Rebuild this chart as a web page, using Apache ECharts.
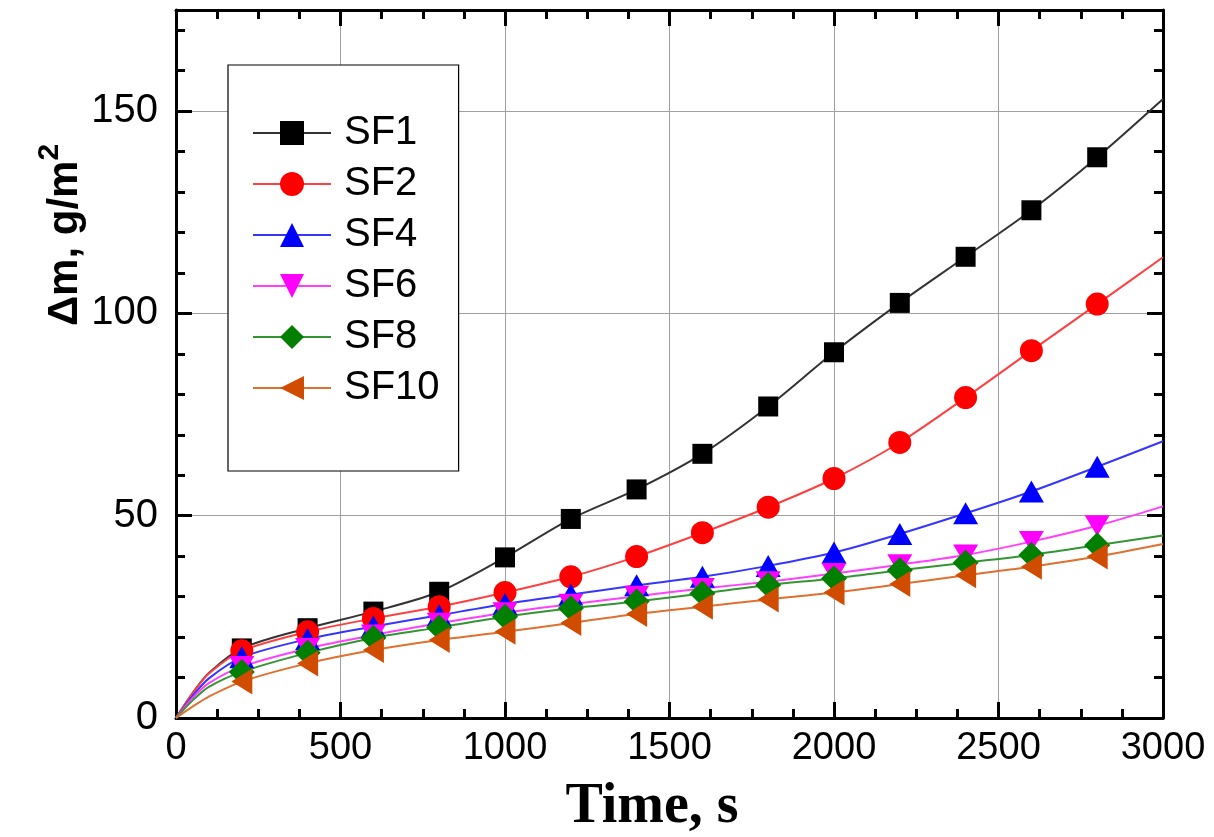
<!DOCTYPE html>
<html>
<head>
<meta charset="utf-8">
<title>Mass change vs time</title>
<script src="https://cdn.jsdelivr.net/npm/echarts/dist/echarts.min.js"></script>
<style>
  html, body { margin: 0; padding: 0; background: #fff; }
  #chart { width: 1214px; height: 837px; }
</style>
</head>
<body>
<div id="chart"></div>
<script>
// sampled points (markers)
const times = [0, 200, 400, 600, 800, 1000, 1200, 1400, 1600, 1800, 2000, 2200, 2400, 2600, 2800];
const sf1 = [0, 17.2, 22.2, 26.3, 31.2, 39.7, 49.2, 56.5, 65.3, 77, 90.4, 102.6, 114, 125.5, 138.6];
const sf2 = [0, 16.6, 21.3, 24.6, 27.5, 31, 34.9, 39.9, 45.8, 52.1, 59.2, 68.1, 79.2, 90.8, 102.3];
const sf4 = [0, 15, 19.5, 22.6, 25.4, 28.2, 30.5, 32.8, 34.9, 37.6, 40.9, 45.5, 50.6, 56, 62.1];
const sf6 = [0, 12.7, 17.2, 20.5, 23.4, 26, 28.1, 30.1, 32, 33.7, 35.7, 37.9, 40.3, 43.6, 47.5];
const sf8 = [0, 11.4, 16.1, 19.8, 22.4, 25, 27.1, 28.8, 30.8, 32.9, 34.5, 36.5, 38.4, 40.3, 42.7];
const sf10 = [0, 9, 13.5, 16.8, 19.3, 21.3, 23.5, 25.7, 27.5, 29.3, 31, 33.1, 35.3, 37.4, 39.9];

// points (no marker drawn)
const curveTimes = [50, 100, 3000];
const sf1Curve = [6.1, 11.1, 153];
const sf2Curve = [6.1, 11.0, 113.9];
const sf4Curve = [5.4, 9.8, 68.4];
const sf6Curve = [4.9, 8.6, 52.3];
const sf8Curve = [4.3, 7.7, 45.1];
const sf10Curve = [2.8, 5.3, 43];

const names = ["SF1", "SF2", "SF4", "SF6", "SF8", "SF10"];
const xTicks = [0, 500, 1000, 1500, 2000, 2500, 3000];
const yTicks = [0, 50, 100, 150];

function buildData(marks, curve) {
  // the markers sitting on the origin are clipped away in the original plot
  let pts = times.map((t, i) => (t === 0 ? { value: [t, marks[i]], symbol: "none" } : { value: [t, marks[i]] }));
  curveTimes.forEach((t, i) => {
    pts.push({ value: [t, curve[i]], symbol: "none" });
  });
  pts.sort((a, b) => a.value[0] - b.value[0]);
  return pts;
}

const styles = [
  { marks: sf1, curve: sf1Curve, line: "#333333", fill: "#000000", symbol: "rect", size: 20, rotate: 0 },
  { marks: sf2, curve: sf2Curve, line: "#ff4040", fill: "#ff0000", symbol: "circle", size: 23, rotate: 0 },
  { marks: sf4, curve: sf4Curve, line: "#3535ff", fill: "#0000ff", symbol: "triangle", size: [25, 22], rotate: 0 },
  { marks: sf6, curve: sf6Curve, line: "#ff40ff", fill: "#ff00ff", symbol: "triangle", size: [25, 21], rotate: 180 },
  { marks: sf8, curve: sf8Curve, line: "#359535", fill: "#007f00", symbol: "diamond", size: [26, 26], rotate: 0 },
  { marks: sf10, curve: sf10Curve, line: "#e07030", fill: "#d04c00", symbol: "triangle", size: [26, 21], rotate: 90 },
];

const series = styles.map((s, i) => ({
  name: names[i],
  type: "line",
  xAxisIndex: 0,
  yAxisIndex: 0,
  data: buildData(s.marks, s.curve),
  smooth: 0.3,
  symbol: s.symbol,
  symbolSize: s.size,
  symbolRotate: s.rotate,
  showAllSymbol: true,
  lineStyle: { color: s.line, width: 2 },
  itemStyle: { color: s.fill, borderWidth: 0 },
  emphasis: { disabled: true },
}));

function frameAxis(position, isX, main) {
  let ax = {
    type: "value",
    position: position,
    min: 0,
    max: isX ? 3000 : 175,
    interval: isX ? 500 : 50,
    axisLine: { show: true, onZero: false, lineStyle: { color: "#000", width: 3 } },
    axisTick: { show: true, inside: true, length: 16, lineStyle: { color: "#000", width: 3 } },
    minorTick: { show: true, splitNumber: isX ? 4 : 5, length: 9, lineStyle: { color: "#000", width: 3 } },
    splitLine: { show: main, lineStyle: { color: "#a0a0a0", width: 1 } },
    axisLabel: { show: false },
  };
  if (main) {
    ax.axisLabel = {
      show: true,
      margin: isX ? 12 : 18,
      fontFamily: "Liberation Sans",
      fontSize: isX ? 38 : 40,
      color: "#000",
      formatter: (v) => {
        const list = isX ? xTicks : yTicks;
        return list.indexOf(v) >= 0 ? String(v) : "";
      },
    };
  }
  return ax;
}

let myChart = echarts.init(document.getElementById("chart"));
const option = {
  animation: false,
  backgroundColor: "#fff",
  grid: { left: 176, right: 51, top: 10, bottom: 119, containLabel: false },
  xAxis: [frameAxis("bottom", true, true), frameAxis("top", true, false)],
  yAxis: [frameAxis("left", false, true), frameAxis("right", false, false)],
  legend: {
    data: names,
    orient: "vertical",
    left: 228,
    top: 65,
    padding: [48, 19, 63, 24],
    backgroundColor: "#fff",
    borderColor: "#000",
    borderWidth: 1.2,
    borderRadius: 0,
    itemWidth: 78,
    itemHeight: 30,
    itemGap: 11,
    textStyle: {
      fontFamily: "Liberation Sans",
      fontSize: 40,
      lineHeight: 40,
      color: "#000",
      padding: [0, 0, 0, 8],
    },
    selectedMode: false,
  },
  graphic: [
    {
      type: "text",
      x: 65,
      y: 235,
      rotation: Math.PI / 2,
      style: {
        text: "{t|Δm, g/m}{sup|2}",
        fill: "#000",
        align: "center",
        verticalAlign: "middle",
        rich: {
          t: { font: "bold 42px 'Liberation Sans'", lineHeight: 42, fill: "#000" },
          sup: { font: "bold 30px 'Liberation Sans'", lineHeight: 30, padding: [0, 0, 30, 0], fill: "#000" },
        },
      },
    },
    {
      type: "text",
      x: 652,
      y: 808,
      style: {
        text: "Time, s",
        font: "bold 56px 'Liberation Serif'",
        fill: "#000",
        align: "center",
        verticalAlign: "middle",
      },
    },
  ],
  series: series,
};
myChart.setOption(option, true);
</script>
</body>
</html>
